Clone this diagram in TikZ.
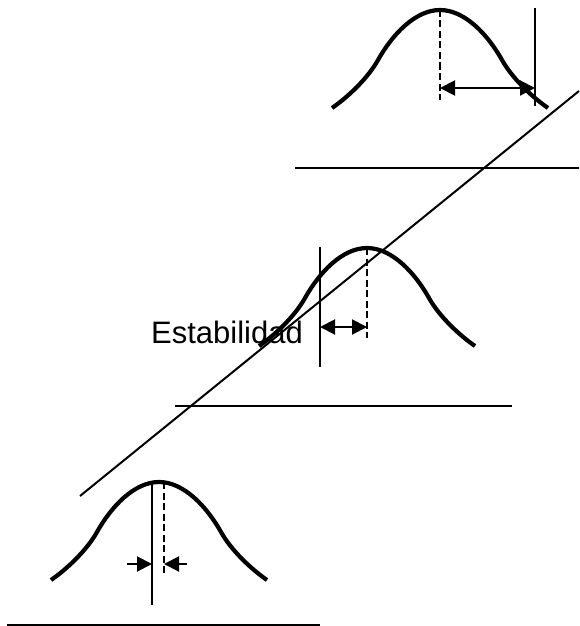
\documentclass[tikz,border=0pt]{standalone}
\usepackage{fontspec}
\setmainfont{Liberation Sans}
\usetikzlibrary{arrows.meta}

\begin{document}
\begin{tikzpicture}[x=1pt, y=-1pt,
    bell/.style={line width=4.2pt},
    baseline/.style={line width=2pt},
    limitline/.style={line width=1.8pt},
    meanline/.style={line width=1.6pt, dash pattern=on 7pt off 3.5pt},
    span/.style={line width=2pt, {Triangle[length=15pt,width=15pt]}-{Triangle[length=15pt,width=15pt]}},
    squeeze/.style={line width=2pt, -{Triangle[length=15pt,width=15pt]}}]
  \useasboundingbox (0,0) rectangle (579,626);

  % Label
  \node[anchor=base west, inner sep=0pt, font=\fontsize{31}{31}\selectfont] (lbl) at (151,343) {Estabilidad};

  % Upper distribution
  \draw[bell, shift={(440,10)}] (-108,98) .. controls (-92,87) and (-72,68) .. (-62,50)
    .. controls (-48,25) and (-25,0) .. (0,0) .. controls (25,0) and (48,25) .. (62,50)
    .. controls (72,68) and (92,87) .. (108,98);
  \draw[meanline] (440,10) -- (440,100);
  \draw[limitline] (535,8) -- (535,106);
  \coordinate (umean) at (440,88);
  \coordinate (ulimit) at (535,88);
  \draw[span] (umean) -- (ulimit);
  \draw[baseline] (295,168) -- (579,168);

  % Middle distribution
  \draw[bell, shift={(367,248)}] (-108,98) .. controls (-92,87) and (-72,68) .. (-62,50)
    .. controls (-48,25) and (-25,0) .. (0,0) .. controls (25,0) and (48,25) .. (62,50)
    .. controls (72,68) and (92,87) .. (108,98);
  \draw[meanline] (367,248) -- (367,338);
  \draw[limitline] (320,247) -- (320,367);
  \coordinate (mlimit) at (320,327);
  \coordinate (mmean) at (367,327);
  \draw[span] (mlimit) -- (mmean);
  \draw[baseline] (175,405.5) -- (512,405.5);

  % Lower distribution
  \draw[bell, shift={(159,482)}] (-108,98) .. controls (-92,87) and (-72,68) .. (-62,50)
    .. controls (-48,25) and (-25,0) .. (0,0) .. controls (25,0) and (48,25) .. (62,50)
    .. controls (72,68) and (92,87) .. (108,98);
  \draw[limitline] (152,482) -- (152,605);
  \draw[meanline] (164,482) -- (164,575);
  \coordinate (lfrom) at (127,564);
  \coordinate (llimit) at (152,564);
  \coordinate (rfrom) at (187,564);
  \coordinate (lmean) at (164,564);
  \draw[squeeze] (lfrom) -- (llimit);
  \draw[squeeze] (rfrom) -- (lmean);
  \draw[baseline] (7,625) -- (320,625);

  % Trend
  \coordinate (trendlo) at (80,496);
  \coordinate (trendhi) at (579,91);
  \draw[baseline] (trendlo) -- (trendhi);
\end{tikzpicture}
\end{document}
